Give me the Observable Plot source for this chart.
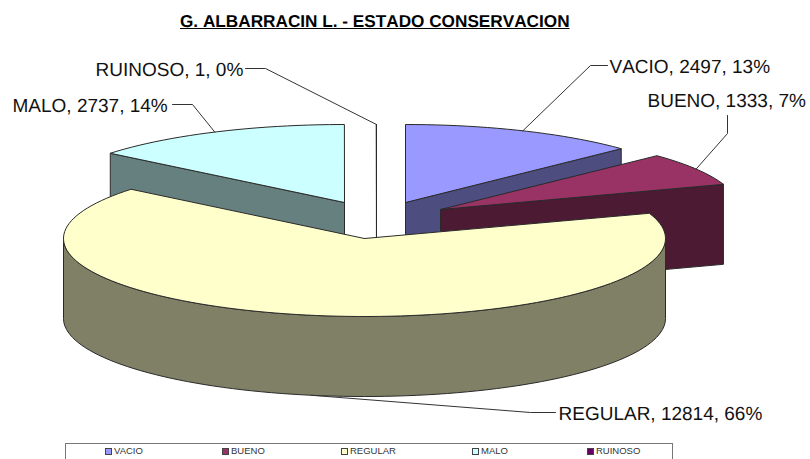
<!DOCTYPE html>
<html>
<head>
<meta charset="utf-8">
<script src="https://cdn.jsdelivr.net/npm/d3@7"></script>
<script src="https://cdn.jsdelivr.net/npm/@observablehq/plot@0.6"></script>
<style>
  html, body { margin: 0; padding: 0; background: #fff; width: 810px; height: 459px; overflow: hidden; font-family: "Liberation Sans", Arial, sans-serif; }
  #title { height: 34px; line-height: 42px; margin-left: 180px; font-size: 17.2px; font-weight: bold; text-decoration: underline; color: #000; white-space: nowrap; font-kerning: none; text-rendering: geometricPrecision; }
  #chart svg { display: block; }
  #chart svg text { font-kerning: none; text-rendering: geometricPrecision; }
  #legend { position: absolute; left: 65px; top: 443px; width: 608px; height: 20px; border: 1.5px solid #777; box-sizing: border-box; }
  #legend span { position: absolute; top: 1px; font-size: 9.5px; line-height: 12px; color: #333; white-space: nowrap; }
  #legend i { position: absolute; top: 4px; width: 5px; height: 5px; border: 1px solid #444; }
</style>
</head>
<body>
<div id="title">G. ALBARRACIN L. - ESTADO CONSERVACION</div>
<div id="chart"></div>
<div id="legend"></div>
<script>
// Data
const categories = ["VACIO", "BUENO", "REGULAR", "MALO", "RUINOSO"];
const values = [2497, 1333, 12814, 2737, 1];

// Styling
const topColors = ["#9999FF", "#993366", "#FFFFCC", "#CCFFFF", "#660066"];
const sideColors = ["#4D4D80", "#4D1A33", "#808066", "#668080", "#330033"];
const legendSwatchX = [39, 156, 275, 406, 521];

// Layout of the exploded pie (screen units)
const radiusXs = [298, 299, 301, 302, 299];
const radiusY = 78, depth = 80;
const apexX = [405, 440, 364, 344, 376];
const apexY = [202, 209, 238, 202, 202];
const drawOrder = [4, 0, 1, 3, 2];
// Label layout: text start, text middle y, leader elbow
const labelX = [609, 647, 558, 12, 95];
const labelY = [66, 100, 413, 105, 69];
const elbowX = [590, 727, 530, 192, 265];
const elbowY = [65, 133, 412, 104, 68];
const stemX = [607, 727, 555, 172, 245];
const stemY = [65, 115, 412, 104, 68];

const total = d3.sum(values);
const cumulative = d3.cumsum(values);
const ends = cumulative.map(c => (c / total) * 360);
const starts = ends.map((e, i) => (i ? ends[i - 1] : 0));
const rad = d => (d * Math.PI) / 180;
const rim = (i, deg, drop = 0) => [
  apexX[i] + radiusXs[i] * Math.sin(rad(deg)),
  apexY[i] - radiusY * Math.cos(rad(deg)) + drop
];
const arc = (i, a, b, drop = 0) => {
  const step = 2, pts = [];
  for (let t = a; t < b; t += step) pts.push(rim(i, t, drop));
  pts.push(rim(i, b, drop));
  return pts;
};

const layers = [];
for (const i of drawOrder) {
  const A = [apexX[i], apexY[i]], B = [apexX[i], apexY[i] + depth];
  const side = pts => layers.push({pts: [...pts, pts[0]], fill: sideColors[i]});
  if (ends[i] < 180) side([A, rim(i, ends[i]), rim(i, ends[i], depth), B]);
  if (starts[i] > 180) side([A, rim(i, starts[i]), rim(i, starts[i], depth), B]);
  const from = Math.max(starts[i], 90), to = Math.min(ends[i], 270);
  if (from < to) side([...arc(i, from, to), ...arc(i, from, to, depth).reverse()]);
  layers.push({pts: [A, ...arc(i, starts[i], ends[i]), A], fill: topColors[i]});
}

const leaders = categories.map((c, i) => {
  const mid = (starts[i] + ends[i]) / 2;
  const drop = mid > 90 && mid < 270 ? depth : 0;
  return {
    name: c,
    pts: [[stemX[i], stemY[i]], [elbowX[i], elbowY[i]], rim(i, mid, drop)]
  };
});

const labels = categories.map((c, i) => ({
  text: `${c}, ${values[i]}, ${Math.round((values[i] / total) * 100)}%`,
  x: labelX[i],
  y: labelY[i]
}));

const chart = Plot.plot({
  width: 810,
  height: 406,
  margin: 0,
  x: {domain: [0, 810], range: [0, 810], axis: null},
  y: {domain: [34, 440], range: [0, 406], axis: null},
  marks: [
    ...layers.map(l => Plot.line(l.pts, {
      x: p => p[0], y: p => p[1], fill: l.fill, stroke: "#2a2a2a", strokeWidth: 1
    })),
    ...leaders.map(l => Plot.line(l.pts, {
      x: p => p[0], y: p => p[1], stroke: "#333", strokeWidth: 1
    })),
    Plot.text(labels, {
      x: "x", y: "y", text: "text", textAnchor: "start", lineAnchor: "middle",
      fontSize: 19, fontFamily: "Liberation Sans, Arial, sans-serif", fill: "#111"
    })
  ]
});
document.getElementById("chart").append(chart);

const legend = d3.select("#legend");
categories.forEach((c, i) => {
  legend.append("i").style("left", legendSwatchX[i] + "px").style("background", topColors[i]);
  legend.append("span").style("left", legendSwatchX[i] + 9 + "px").text(c);
});
</script>
</body>
</html>
